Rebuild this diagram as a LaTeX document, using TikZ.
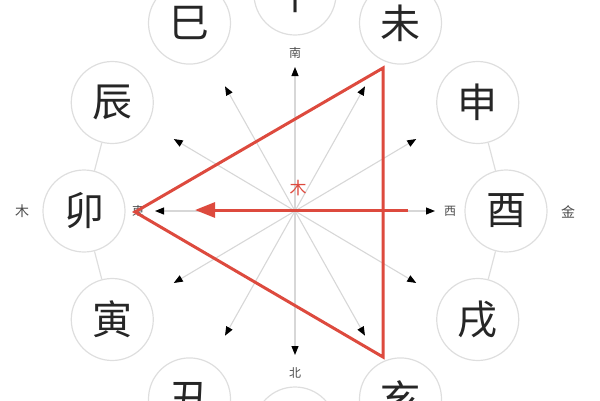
\documentclass[tikz,border=0pt]{standalone}
\usepackage{fontspec}
\newfontfamily\cjk{Noto Sans CJK SC}
\usepackage{tikz}
\usetikzlibrary{arrows.meta,positioning,calc}
\definecolor{woodred}{RGB}{221,74,62}
\definecolor{ringgray}{RGB}{222,222,222}
\definecolor{spokegray}{RGB}{215,215,215}

\begin{document}
\begin{tikzpicture}[x=1pt,y=-1pt,
    branch/.style={circle, draw=ringgray, line width=1.2pt, minimum size=82pt, inner sep=0pt,
        font=\cjk\fontsize{40}{40}\selectfont, text=black!85},
    spoke/.style={draw=spokegray, line width=1.1pt, -{Triangle[length=9pt,width=7pt,color=black]}},
    ring/.style={draw=ringgray, line width=1.2pt},
    dirlabel/.style={font=\cjk\fontsize{12}{12}\selectfont, text=black!70, inner sep=1pt},
    elemlabel/.style={font=\cjk\fontsize{14}{14}\selectfont, text=black!70, inner sep=1pt},
    triline/.style={draw=woodred, line width=3pt, line join=miter}]
\useasboundingbox (0,0) rectangle (600,400);

% Centre
\coordinate (o) at (295,211);

% Twelve branches round the centre
\foreach \name/\ch [count=\i from 0] in {wu/午, wei/未, shen/申, you/酉, xu/戌, hai/亥,
        zi/子, chou/丑, yin/寅, mao/卯, chen/辰, si/巳}
    \node[branch] (\name) at ({295+211*sin(30*\i)}, {211-217*cos(30*\i)}) {\ch};

% Ring pieces beside east and west
\draw[ring] (chen) -- (mao);
\draw[ring] (mao) -- (yin);
\draw[ring] (shen) -- (you);
\draw[ring] (you) -- (xu);

% Spokes
\foreach \i in {0,...,11} {
    \coordinate (s\i) at ({295+140*sin(30*\i)}, {211-144*cos(30*\i)});
    \draw[spoke] (o) -- (s\i);
}

% Directions
\node[dirlabel] (south) at (295,53) {南};
\node[dirlabel] (north) at (295,373) {北};
\node[dirlabel] (east) at (138,211) {東};
\node[dirlabel] (west) at (450,211) {西};

% Elements
\node[elemlabel] (wood) at (22,211) {木};
\node[elemlabel] (metal) at (568,212) {金};

% Wood triangle
\coordinate (tA) at (383,68);
\coordinate (tB) at (383,357);
\coordinate (tC) at (135,212);
\draw[triline] (tA) -- (tB) -- (tC) -- cycle;

% Arrow towards the east
\coordinate (aS) at (408,210);
\coordinate (aE) at (195,210);
\draw[triline, -{Triangle[length=20pt,width=15pt]}] (aS) -- (aE);
\node[font=\cjk\fontsize{17}{17}\selectfont, text=woodred] (woodmark) at (298,188) {木};

\end{tikzpicture}
\end{document}
